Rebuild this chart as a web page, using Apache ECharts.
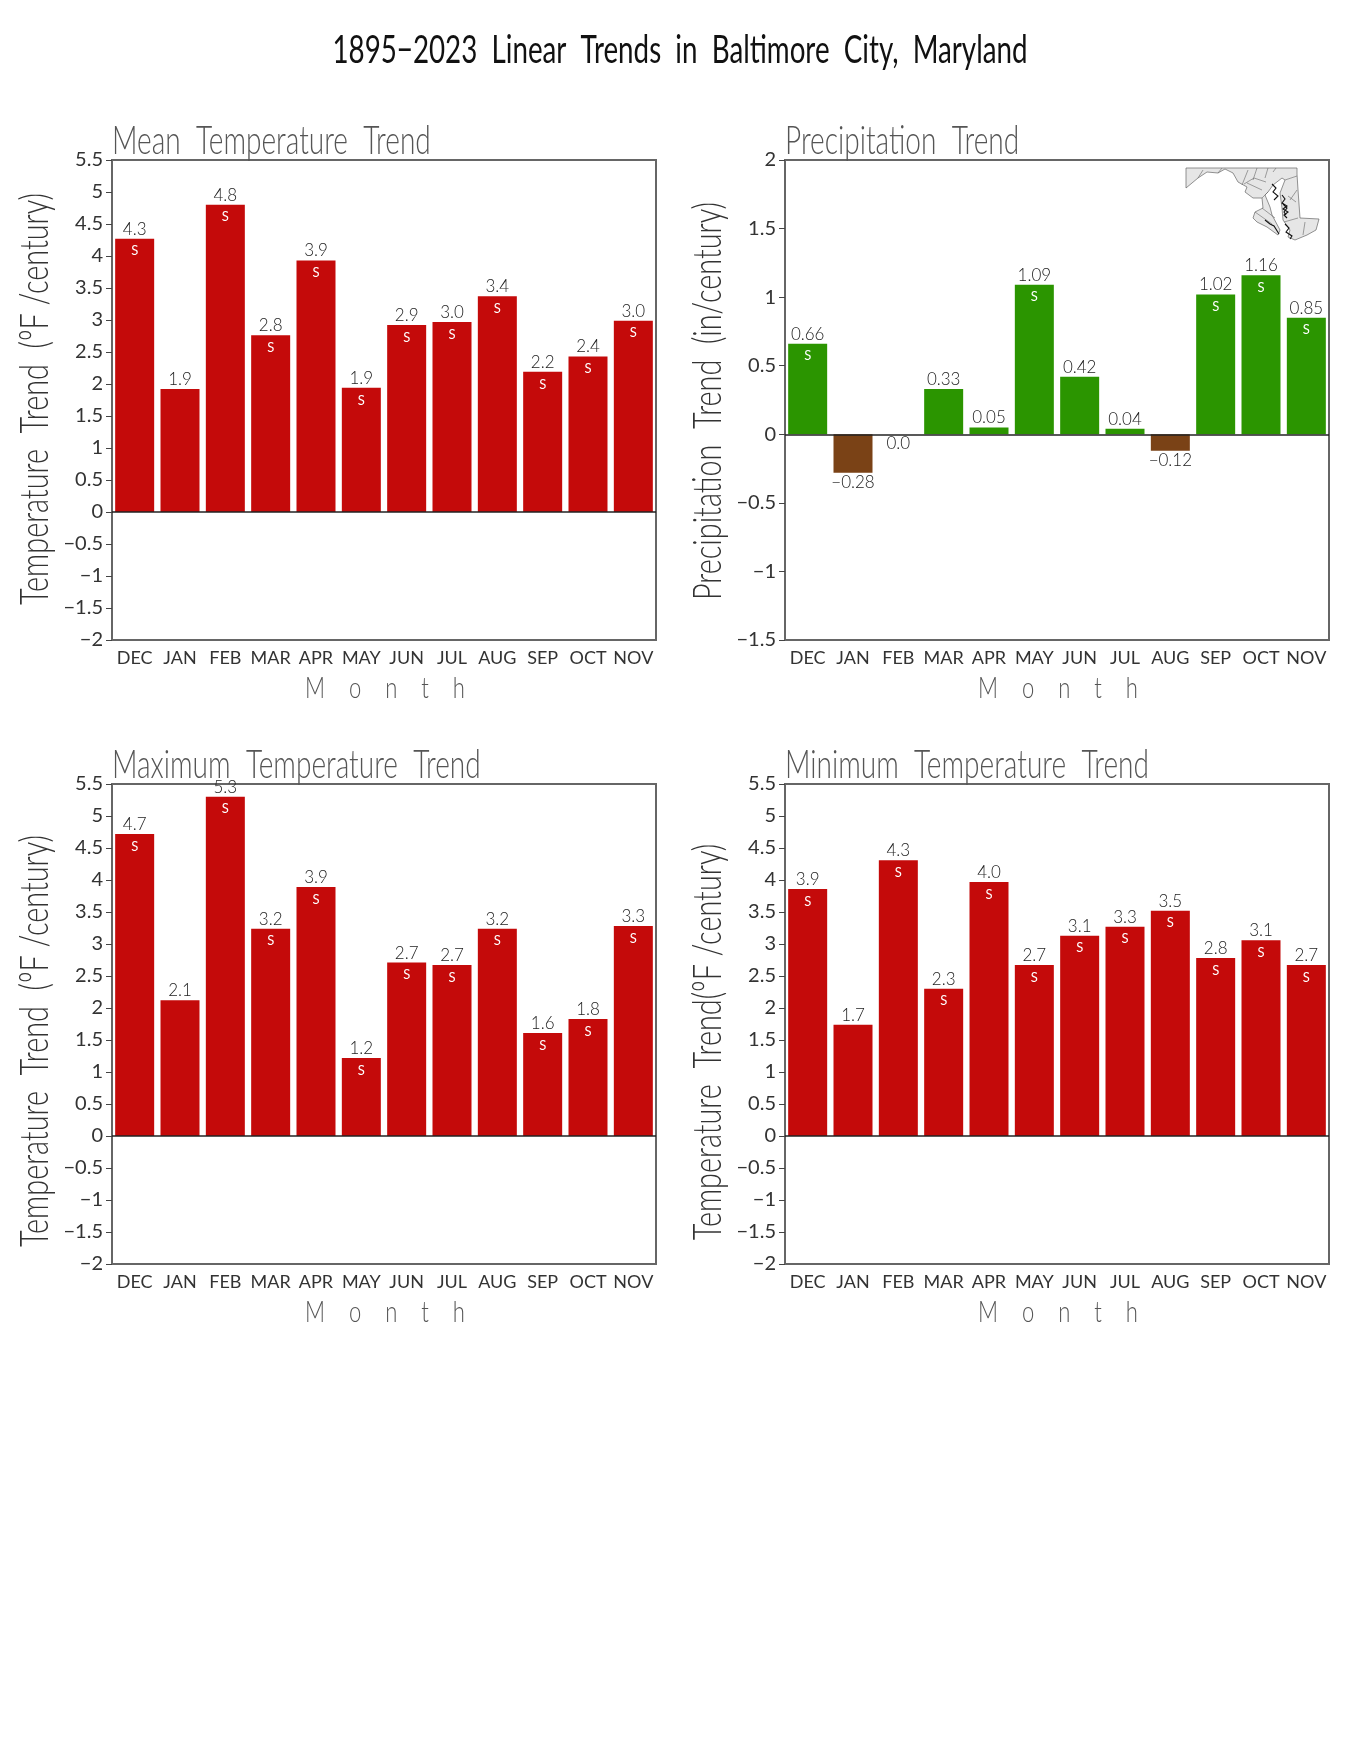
<!DOCTYPE html>
<html>
<head>
<meta charset="utf-8">
<title>Baltimore City trends</title>
<script src="https://cdn.jsdelivr.net/npm/echarts@6/dist/echarts.min.js"></script>
<style>
  html, body { margin: 0; background: #fff; }
  #main { width: 1360px; height: 1760px; }
</style>
</head>
<body>
<div id="main"></div>
<script>
var months = ['DEC','JAN','FEB','MAR','APR','MAY','JUN','JUL','AUG','SEP','OCT','NOV'];

var meanTrend = [4.27,1.92,4.80,2.76,3.93,1.94,2.92,2.97,3.37,2.19,2.43,2.99];
var precipTrend = [0.66,-0.28,0,0.33,0.05,1.09,0.42,0.04,-0.12,1.02,1.16,0.85];
var maxTrend = [4.72,2.12,5.30,3.24,3.89,1.22,2.71,2.67,3.24,1.61,1.83,3.28];
var minTrend = [3.86,1.74,4.31,2.30,3.97,2.67,3.13,3.27,3.52,2.78,3.06,2.67];

// months flagged with the small "S"
var meanSig = [1,0,1,1,1,1,1,1,1,1,1,1];
var precipSig = [1,0,0,0,0,1,0,0,0,1,1,1];
var maxSig = [1,0,1,1,1,1,1,1,1,1,1,1];
var minSig = [1,0,1,1,1,1,1,1,1,1,1,1];

var RED = '#c40a0a', GREEN = '#2b9500', BROWN = '#7a4216';
var THIN = 'Lato, "Liberation Sans", sans-serif';

var panels = [
  {left: 112, top: 160, title: 'Mean  Temperature  Trend', yName: 'Temperature  Trend  (ºF /century)', values: meanTrend, sig: meanSig, min: -2, max: 5.5, digits: 1, nameMid: 399},
  {left: 785, top: 160, title: 'Precipitation  Trend', yName: 'Precipitation  Trend  (in/century)', values: precipTrend, sig: precipSig, min: -1.5, max: 2, digits: 2, nameMid: 401},
  {left: 112, top: 784, title: 'Maximum  Temperature  Trend', yName: 'Temperature  Trend  (ºF /century)', values: maxTrend, sig: maxSig, min: -2, max: 5.5, digits: 1, nameMid: 1041},
  {left: 785, top: 784, title: 'Minimum  Temperature  Trend', yName: 'Temperature  Trend(ºF /century)', values: minTrend, sig: minSig, min: -2, max: 5.5, digits: 1, nameMid: 1042}
];

var PW = 544, PH = 480;

function minus(s) { return String(s).replace('-', '\u2212'); }

var grids = [], xAxes = [], yAxes = [], series = [], graphics = [];

// squeezed text, the original lettering is tall and narrow
function stretched(text, x, y, size, sx, color, align, rot, weight) {
  return {
    type: 'text', x: x, y: y, scaleX: sx, rotation: rot || 0, silent: true,
    style: {text: text, fontSize: size, fontFamily: THIN, fontWeight: weight || 300, fill: color, textAlign: align, textVerticalAlign: 'middle'}
  };
}

panels.forEach(function (p, i) {
  grids.push({left: p.left, top: p.top, width: PW, height: PH, show: true, borderColor: '#666', borderWidth: 2, backgroundColor: 'transparent'});
  xAxes.push({
    type: 'category', gridIndex: i, data: months, boundaryGap: true,
    axisLine: {show: false},
    axisTick: {length: 5, alignWithLabel: true, lineStyle: {color: '#444'}},
    axisLabel: {interval: 0, fontFamily: THIN, fontSize: 18, color: '#333', margin: 9}
  });
  yAxes.push({
    type: 'value', gridIndex: i, min: p.min, max: p.max, interval: 0.5,
    splitLine: {show: false},
    axisLine: {show: false},
    axisTick: {show: true, length: 6, lineStyle: {color: '#444'}},
    axisLabel: {fontFamily: THIN, fontSize: 20, color: '#333', margin: 9, formatter: function (v) { return minus(v); }}
  });

  series.push({
    type: 'bar', xAxisIndex: i, yAxisIndex: i, barWidth: 39, barGap: '-100%',
    animation: false, silent: true,
    data: p.values.map(function (v) {
      return {
        value: v,
        itemStyle: {color: v < 0 ? BROWN : (p.digits === 2 ? GREEN : RED)},
        label: {position: v <= 0 ? 'bottom' : 'top'}
      };
    }),
    label: {
      show: true, fontFamily: THIN, fontWeight: 300, fontSize: 17, color: '#222', distance: 1,
      formatter: function (d) {
        if (d.value === 0) return '0.0';
        return minus(d.value.toFixed(p.digits));
      }
    },
    markLine: {
      silent: true, symbol: 'none', animation: false, label: {show: false},
      lineStyle: {color: '#222', width: 1.5, type: 'solid'},
      data: [{yAxis: 0}]
    }
  });
  // the "S" sits on a second, see-through copy of the bars
  series.push({
    type: 'bar', xAxisIndex: i, yAxisIndex: i, barWidth: 39, barGap: '-100%',
    animation: false, silent: true,
    itemStyle: {color: 'transparent'},
    data: p.values,
    label: {
      show: true, position: 'insideTop', distance: 6, fontFamily: THIN, fontSize: 13, color: '#fff',
      formatter: function (d) { return p.sig[d.dataIndex] ? 'S' : ''; }
    }
  });

  graphics.push(stretched(p.title, p.left, p.top - 19, 39, 0.72, '#555', 'left'));
  graphics.push(stretched(p.yName, p.left - 77, p.nameMid, 40, 0.72, '#333', 'center', Math.PI / 2));
  graphics.push(stretched('M    o    n    t    h', p.left + PW / 2 + 1, p.top + PH + 49, 29, 0.76, '#555', 'center'));
});

graphics.push(stretched('1895\u22122023  Linear  Trends  in  Baltimore  City,  Maryland', 680, 51, 38, 0.73, '#111', 'center', 0, 400));

// state outline for the inset, by eye
var stateOutline = [[1186,168],[1297,168],[1297,174],[1298,190],[1300,218],[1319,219],[1316,230],[1307,235],[1295,240],[1288,237],[1290,230],[1283,220],[1282,208],[1280,193],[1285,180],[1282,178],[1273,185],[1268,192],[1265,195],[1270,207],[1272,215],[1280,230],[1278,235],[1267,227],[1257,222],[1253,218],[1255,212],[1263,208],[1262,198],[1253,198],[1245,192],[1247,187],[1238,182],[1233,173],[1225,169],[1218,173],[1207,172],[1198,178],[1186,188]];
var countyLines = [
  [[1198,178],[1203,170]],[[1218,173],[1222,168]],[[1242,185],[1248,170]],[[1253,180],[1257,168]],[[1265,178],[1268,168]],[[1273,172],[1276,168]],
  [[1247,183],[1262,190]],[[1262,198],[1268,192]],[[1285,180],[1297,176]],[[1290,200],[1297,190]],[[1298,218],[1284,222]],[[1305,222],[1303,235]],
  [[1262,208],[1275,218]],[[1255,212],[1272,224]],[[1244,184],[1254,178],[1266,182]],[[1288,196],[1296,202]]
];
var bayInk = [
  [[1272,184],[1276,188],[1273,192],[1278,196],[1274,200]],
  [[1282,195],[1285,199],[1282,203],[1287,206],[1283,209],[1288,212],[1284,215],[1287,218]],
  [[1283,204],[1287,208],[1284,212],[1286,215]],
  [[1265,220],[1270,224],[1274,226],[1279,234]],
  [[1285,224],[1289,228],[1286,232],[1292,236],[1290,239]]
];
graphics.push({type: 'polygon', silent: true, shape: {points: stateOutline}, style: {fill: '#e6e6e6', stroke: '#666', lineWidth: 0.7}});
countyLines.forEach(function (l) {
  graphics.push({type: 'polyline', silent: true, shape: {points: l}, style: {fill: 'none', stroke: '#666', lineWidth: 0.6}});
});
bayInk.forEach(function (l) {
  graphics.push({type: 'polyline', silent: true, shape: {points: l}, style: {fill: 'none', stroke: '#111', lineWidth: 1.1}});
});

var chart = echarts.init(document.getElementById('main'), null, {renderer: 'canvas'});
chart.setOption({
  animation: false,
  backgroundColor: '#fff',
  grid: grids,
  xAxis: xAxes,
  yAxis: yAxes,
  series: series,
  graphic: graphics
});
</script>
</body>
</html>
